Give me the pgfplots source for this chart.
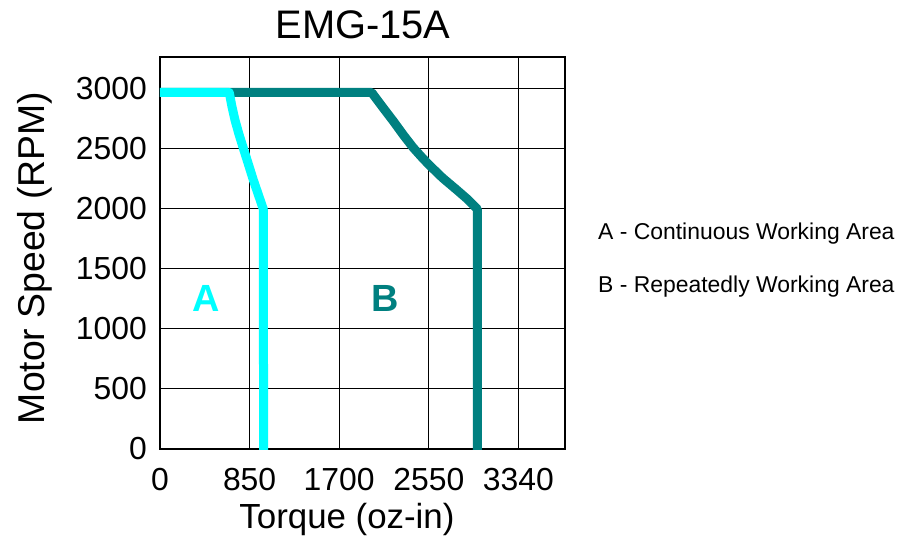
\documentclass[border=0pt]{standalone}
\usepackage{fontspec}
\setmainfont{Liberation Sans}
\usepackage{pgfplots}
\pgfplotsset{compat=1.18}
\definecolor{cyanA}{RGB}{0,255,255}
\definecolor{tealB}{RGB}{0,128,128}
\begin{document}
\begin{tikzpicture}
\useasboundingbox (-160bp,-93bp) rectangle (740bp,449bp);
\begin{axis}[
  scale only axis, width=405bp, height=392bp,
  at={(0bp,0bp)}, anchor=south west,
  xmin=0, xmax=3842, ymin=0, ymax=3260,
  xtick={0,850,1700,2550,3400},
  xticklabels={0,850,1700,2550,3340},
  ytick={0,500,1000,1500,2000,2500,3000},
  yticklabels={0,500,1000,1500,2000,2500,3000},
  scaled ticks=false,
  grid=major,
  grid style={black, line width=1.1bp},
  axis line style={black, line width=1.8bp},
  major tick length=0pt,
  /pgf/number format/assume math mode=true,
  tick label style={font=\fontsize{32}{38}\selectfont, inner sep=0pt},
  xticklabel style={anchor=north, yshift=-19bp},
  yticklabel style={anchor=east, xshift=-13bp},
]
\addplot[tealB, line width=9bp, line join=round, line cap=round] coordinates {
  (0,2965) (657,2965) (2008,2965) (2110,2845) (2213,2727) (2310,2610)
  (2403,2505) (2480,2430) (2550,2365) (2680,2255) (2815,2155)
  (2920,2075) (3010,1995) (3010,-100)
};
\addplot[cyanA, line width=9bp, line join=round, line cap=round] coordinates {
  (-100,2965) (657,2965) (682,2850) (711,2737) (750,2615) (791,2500)
  (838,2370) (885,2238) (980,1995) (983,-100)
};
\end{axis}
\node[anchor=base, inner sep=0pt, font=\fontsize{40}{48}\selectfont] at (203bp,410bp) {EMG-15A};
\node[anchor=base, inner sep=0pt, font=\fontsize{35}{42}\selectfont] at (187bp,-79bp) {Torque (oz-in)};
\node[rotate=90, inner sep=0pt, font=\fontsize{37.5}{45}\selectfont] at (-125bp,191bp) {Motor Speed (RPM)};
\node[anchor=base west, inner sep=0pt, font=\fontsize{23}{27}\selectfont] at (438bp,209.7bp) {A - Continuous Working Area};
\node[anchor=base west, inner sep=0pt, font=\fontsize{23}{27}\selectfont] at (438bp,156bp) {B - Repeatedly Working Area};
\node[anchor=base, inner sep=0pt, text=cyanA, font=\bfseries\fontsize{38}{46}\selectfont] at (46bp,137bp) {A};
\node[anchor=base, inner sep=0pt, text=tealB, font=\bfseries\fontsize{38}{46}\selectfont] at (225bp,137bp) {B};
\end{tikzpicture}
\end{document}
